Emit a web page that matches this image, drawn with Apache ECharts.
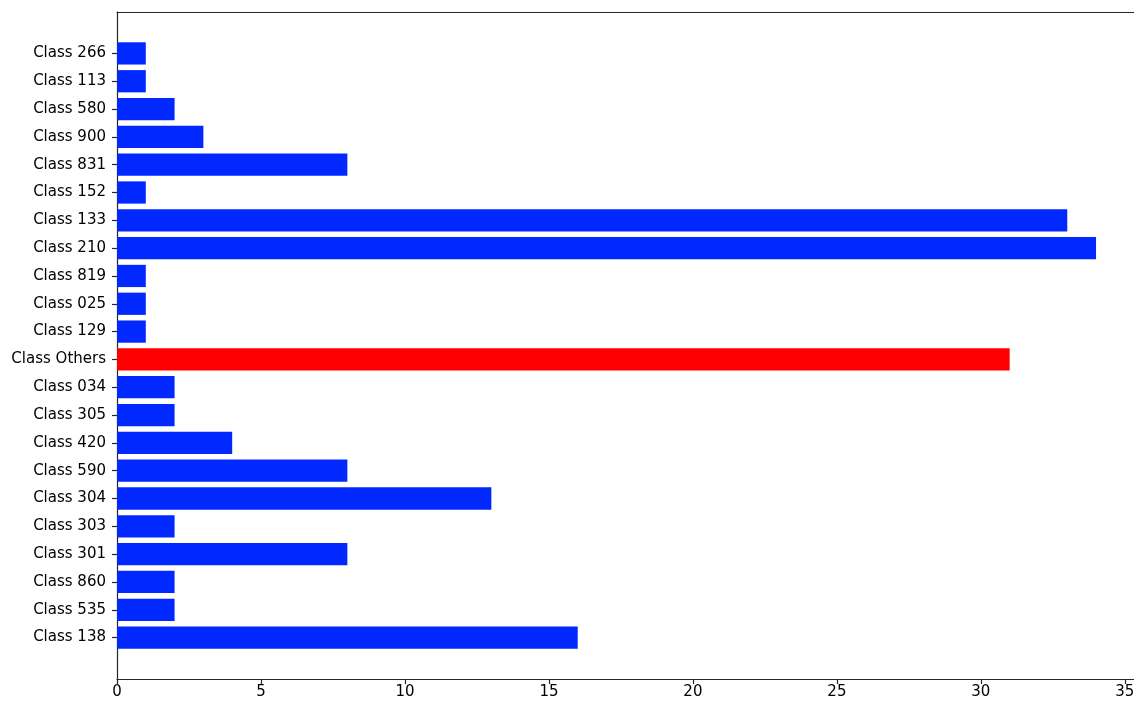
<!DOCTYPE html>
<html>
<head>
<meta charset="utf-8">
<script src="https://cdn.jsdelivr.net/npm/echarts@6/dist/echarts.min.js"></script>
<style>
  html, body { margin: 0; padding: 0; background: #fff; }
  #chart { width: 1134px; height: 701px; }
</style>
</head>
<body>
<div id="chart"></div>
<script>
// categories listed bottom to top, as they appear on the y axis
var classes = ["Class 138", "Class 535", "Class 860", "Class 301", "Class 303", "Class 304",
    "Class 590", "Class 420", "Class 305", "Class 034", "Class Others", "Class 129",
    "Class 025", "Class 819", "Class 210", "Class 133", "Class 152", "Class 831",
    "Class 900", "Class 580", "Class 113", "Class 266"];
var counts = [16, 2, 2, 8, 2, 13, 8, 4, 2, 2, 31, 1, 1, 1, 34, 33, 1, 8, 3, 2, 1, 1];
var highlight = "Class Others";

// axes box is wider than the picture: the right spine falls off the image
var xMax = 35.7;
var blue = "#0028ff", red = "#ff0000";
var font = "DejaVu Sans";
var spine = {color: "#262626", width: 1.2};

var chart = echarts.init(document.getElementById("chart"));

var option = {
    animation: false,
    grid: [
        // frame (matplotlib axes box)
        {left: 117, top: 12, width: 1028, height: 667, outerBoundsMode: "none"},
        // bar area (inner, without the 5% margins)
        {left: 117, top: 39.5, width: 1028, height: 612, outerBoundsMode: "none"}
    ],
    xAxis: [
        {gridIndex: 0, type: "value", min: 0, max: xMax, interval: 5,
         splitLine: {show: false},
         axisLine: {show: true, lineStyle: spine},
         axisTick: {show: true, length: 5, lineStyle: spine},
         axisLabel: {color: "#000", fontFamily: font, fontSize: 15, margin: 6,
             showMaxLabel: false,
             formatter: function (v) { return v % 5 === 0 ? String(v) : ""; }}},
        // top spine
        {gridIndex: 0, type: "value", position: "top", min: 0, max: xMax,
         splitLine: {show: false}, axisTick: {show: false}, axisLabel: {show: false},
         axisLine: {show: true, lineStyle: spine}},
        {gridIndex: 1, type: "value", min: 0, max: xMax, show: false}
    ],
    yAxis: [
        {gridIndex: 0, type: "value", splitLine: {show: false},
         axisTick: {show: false}, axisLabel: {show: false},
         axisLine: {show: true, lineStyle: spine}},
        {gridIndex: 1, type: "category", data: classes,
         axisLine: {show: false},
         axisTick: {show: true, alignWithLabel: true, length: 5, lineStyle: spine},
         axisLabel: {color: "#000", fontFamily: font, fontSize: 15, margin: 11}}
    ],
    series: [{
        type: "bar",
        xAxisIndex: 2,
        yAxisIndex: 1,
        barWidth: "80%",
        data: counts.map(function (c, i) {
            return {value: c, itemStyle: {color: classes[i] === highlight ? red : blue}};
        })
    }]
};

chart.setOption(option);
</script>
</body>
</html>
